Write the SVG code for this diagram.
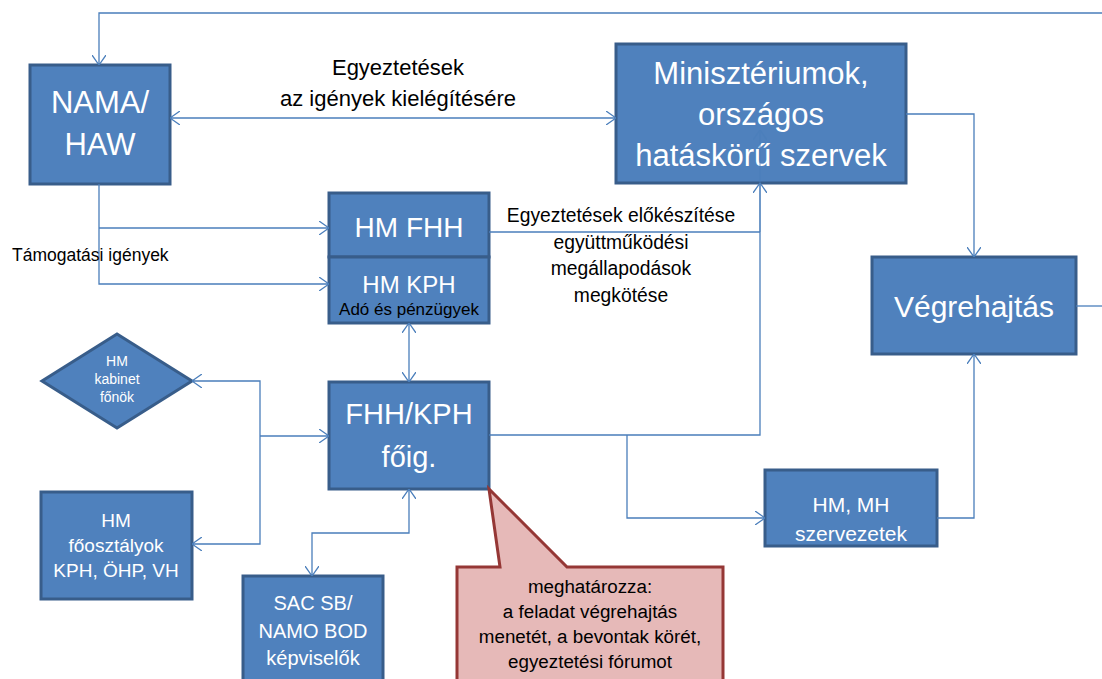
<svg xmlns="http://www.w3.org/2000/svg" width="1102" height="679" viewBox="0 0 1102 679">
<style>
.box{fill:#4F81BD;stroke:#385D8A;stroke-width:3}
.wt{font-family:"Liberation Sans",Arial,sans-serif;fill:#FFFFFF;text-anchor:middle}
.bt{font-family:"Liberation Sans",Arial,sans-serif;fill:#000000;text-anchor:middle}
.cn{fill:none;stroke:#4A7EBB;stroke-width:1.3}
</style>
<defs>
<marker id="ar" viewBox="0 0 10 14" refX="10" refY="7" markerWidth="10" markerHeight="14" markerUnits="userSpaceOnUse" orient="auto-start-reverse">
<path d="M0,0 L10,7 L0,14" fill="none" stroke="#4A7EBB" stroke-width="1.3"/>
</marker>
</defs>
<rect width="1102" height="679" fill="#FFFFFF"/>
<g id="nama"><rect class="box" x="30" y="65" width="140" height="119"/>
<text class="wt" x="100" y="113" font-size="31">NAMA/</text>
<text class="wt" x="100" y="155" font-size="31">HAW</text></g>
<g id="min"><rect class="box" x="616" y="44" width="290" height="139"/>
<text class="wt" x="761" y="84" font-size="31">Minisztériumok,</text>
<text class="wt" x="761" y="125" font-size="31">országos</text>
<text class="wt" x="761" y="166" font-size="31">hatáskörű szervek</text></g>
<g id="hmfhh"><rect class="box" x="329" y="193" width="160" height="64"/>
<text class="wt" x="409" y="237" font-size="28">HM FHH</text></g>
<g id="hmkph"><rect class="box" x="329" y="257" width="160" height="66"/>
<text class="wt" x="409" y="293" font-size="24">HM KPH</text>
<text class="bt" x="409" y="315" font-size="17">Adó és pénzügyek</text></g>
<g id="veg"><rect class="box" x="872" y="257" width="204" height="97"/>
<text class="wt" x="974" y="317" font-size="30">Végrehajtás</text></g>
<g id="kabinet"><polygon class="box" points="117,334 192,381 117,428 42,381"/>
<text class="wt" x="117" y="366" font-size="14">HM</text>
<text class="wt" x="117" y="384" font-size="14">kabinet</text>
<text class="wt" x="117" y="402" font-size="14">főnök</text></g>
<g id="foig"><rect class="box" x="329" y="382" width="160" height="107"/>
<text class="wt" x="409" y="424" font-size="29">FHH/KPH</text>
<text class="wt" x="409" y="467" font-size="29">főig.</text></g>
<g id="foosz"><rect class="box" x="41" y="492" width="151" height="107"/>
<text class="wt" x="116" y="527" font-size="19">HM</text>
<text class="wt" x="116" y="552" font-size="19">főosztályok</text>
<text class="wt" x="116" y="577" font-size="19">KPH, ÖHP, VH</text></g>
<g id="hmmh"><rect class="box" x="765" y="470" width="172" height="76"/>
<text class="wt" x="851" y="512" font-size="21">HM, MH</text>
<text class="wt" x="851" y="541" font-size="21">szervezetek</text></g>
<g id="sac"><rect class="box" x="243" y="576" width="140" height="115"/>
<text class="wt" x="313" y="610" font-size="20">SAC SB/</text>
<text class="wt" x="313" y="638" font-size="20">NAMO BOD</text>
<text class="wt" x="313" y="665" font-size="20">képviselők</text></g>
<g id="callout"><path d="M457,567 L500,567 L489,489 L567,567 L723,567 L723,695 L457,695 Z" fill="#E6B9B8" stroke="#953735" stroke-width="3"/>
<text class="bt" x="590" y="593" font-size="18.8">meghatározza:</text>
<text class="bt" x="590" y="618" font-size="18.8">a feladat végrehajtás</text>
<text class="bt" x="590" y="643" font-size="18.8">menetét, a bevontak körét,</text>
<text class="bt" x="590" y="668" font-size="18.8">egyeztetési fórumot</text></g>
<g id="connectors">
<path class="cn" d="M1102,13 L99,13 L99,65" marker-end="url(#ar)"/>
<path class="cn" d="M170,118 L616,118" marker-start="url(#ar)" marker-end="url(#ar)"/>
<path class="cn" d="M99,184 L99,284 L329,284" marker-end="url(#ar)"/>
<path class="cn" d="M99,228 L329,228" marker-end="url(#ar)"/>
<path class="cn" d="M489,232 L760,232"/>
<path class="cn" d="M760,232 L760,130" marker-end="url(#ar)" opacity="0.6"/>
<path class="cn" d="M489,435 L760,435 L760,183" marker-end="url(#ar)"/>
<path class="cn" d="M627,435 L627,518 L765,518" marker-end="url(#ar)"/>
<path class="cn" d="M906,114 L974,114 L974,257" marker-end="url(#ar)"/>
<path class="cn" d="M937,518 L974,518 L974,354" marker-end="url(#ar)"/>
<path class="cn" d="M1076,306 L1102,306"/>
<path class="cn" d="M409,323 L409,382" marker-start="url(#ar)" marker-end="url(#ar)"/>
<path class="cn" d="M312,576 L312,533 L409,533 L409,489" marker-start="url(#ar)" marker-end="url(#ar)"/>
<path class="cn" d="M192,381 L260,381 L260,544 L192,544" marker-start="url(#ar)" marker-end="url(#ar)"/>
<path class="cn" d="M260,436 L329,436" marker-end="url(#ar)"/>
</g>
<g id="labels">
<text class="bt" x="398" y="75" font-size="22">Egyeztetések</text>
<text class="bt" x="398" y="106" font-size="22">az igények kielégítésére</text>
<text class="bt" x="12" y="261" font-size="17.5" style="text-anchor:start">Támogatási igények</text>
<text class="bt" x="621" y="222" font-size="19.3">Egyeztetések előkészítése</text>
<text class="bt" x="621" y="249" font-size="19.3">együttműködési</text>
<text class="bt" x="621" y="275" font-size="19.3">megállapodások</text>
<text class="bt" x="621" y="302" font-size="19.3">megkötése</text>
</g>
</svg>
